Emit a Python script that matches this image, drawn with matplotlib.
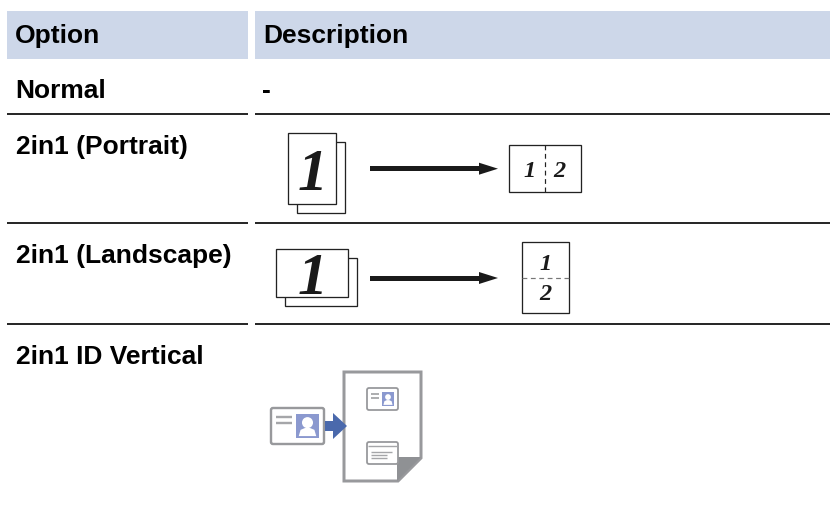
import matplotlib
matplotlib.use('Agg')
import matplotlib.pyplot as plt
from matplotlib.patches import Rectangle, Polygon, Circle, FancyBboxPatch

header = ['Option', 'Description']
options = ['Normal', '2in1 (Portrait)', '2in1 (Landscape)', '2in1 ID Vertical']
option_y = [98, 154, 263, 364]
rule_y = [114, 223, 324]

HEADER_COL = '#cdd7e9'
GREY = '#98999c'
BLUE = '#8b99cf'
DARK_BLUE = '#4a69ac'
PX = 0.72  # un pixel en points

fig = plt.figure(figsize=(8.3, 5.14), dpi=100)
ax = fig.add_axes([0, 0, 1, 1])
ax.set_xlim(0, 830)
ax.set_ylim(514, 0)
ax.axis('off')


def texte(x, y, s, size=19):
    ax.text(x, y, s, fontsize=size, fontweight='bold', family='Liberation Sans',
            va='baseline', ha='left', color='black')


def chiffre(x, y, s, size):
    ax.text(x, y, s, fontsize=size, fontweight='bold', style='italic', family='Liberation Serif',
            va='center_baseline', ha='center', color='#1a1a1a')


def rect(x0, y0, x1, y1, lw=1.3, ec='#222222', fc='white', z=2):
    ax.add_patch(Rectangle((x0, y0), x1 - x0, y1 - y0, lw=lw * PX, ec=ec, fc=fc, zorder=z))


def fleche(x0, x1, y):
    rect(x0, y - 2.5, x1 - 19, y + 2.5, lw=0, ec='none', fc='#1a1a1a')
    ax.add_patch(Polygon([(x1 - 19, y - 6), (x1, y), (x1 - 19, y + 6)], fc='#1a1a1a', ec='none', zorder=2))


def carte(x0, y0, x1, y1, lw):
    ax.add_patch(FancyBboxPatch((x0 + 1.5, y0 + 1.5), x1 - x0 - 3, y1 - y0 - 3, boxstyle='round,pad=1.5,rounding_size=2',
                                lw=lw * PX, ec=GREY, fc='white', zorder=3))


def personne(x0, y0, x1, y1):
    rect(x0, y0, x1, y1, lw=0, ec='none', fc=BLUE, z=4)
    w = x1 - x0
    h = y1 - y0
    cx = (x0 + x1) / 2
    ax.add_patch(Circle((cx, y0 + h * 0.36), w * 0.24, fc='white', ec='none', zorder=5))
    ax.add_patch(Polygon([(x0 + w * 0.12, y1 - h * 0.08), (x0 + w * 0.2, y0 + h * 0.66), (x0 + w * 0.4, y0 + h * 0.58),
                          (x0 + w * 0.6, y0 + h * 0.58), (x0 + w * 0.8, y0 + h * 0.66), (x1 - w * 0.12, y1 - h * 0.08)],
                         fc='white', ec='none', zorder=5))


def trait(x0, x1, y, lw=2.4):
    ax.plot([x0, x1], [y, y], color='#a5a6a9', lw=lw * PX, solid_capstyle='butt', zorder=4)


# En-tête
rect(7, 11, 248, 59, lw=0, ec='none', fc=HEADER_COL, z=1)
rect(255, 11, 830, 59, lw=0, ec='none', fc=HEADER_COL, z=1)
texte(15, 43, header[0])
texte(263, 43, header[1])

for i in range(len(options)):
    texte(15.5, option_y[i], options[i])
texte(262, option_y[0], '-')

for y in rule_y:
    ax.plot([7, 248], [y, y], color='#111111', lw=1.8 * PX, solid_capstyle='butt')
    ax.plot([255, 830], [y, y], color='#111111', lw=1.8 * PX, solid_capstyle='butt')

# 2in1 portrait
rect(297, 142, 345, 213)
rect(288, 133, 336, 204)
chiffre(313, 170, '1', 43)
fleche(370, 498, 168.7)
rect(509, 145, 581, 192)
ax.plot([545, 545], [145, 192], color='#222222', lw=1.2 * PX, ls=(0, (4, 3)), zorder=3)
chiffre(529, 168.7, '1', 17.5)
chiffre(559, 168.7, '2', 17.5)

# 2in1 paysage
rect(285, 258, 357, 306)
rect(276, 249, 348, 297)
chiffre(313, 273, '1', 43)
fleche(370, 498, 278)
rect(522, 242, 569, 313)
ax.plot([522, 569], [278, 278], color='#777777', lw=1.2 * PX, ls=(0, (4, 3)), zorder=3)
chiffre(545, 262, '1', 17.5)
chiffre(545, 292, '2', 17.5)

# ID vertical
ax.add_patch(Polygon([(344, 372), (421, 372), (421, 458), (398, 481), (344, 481)], closed=True,
                     fc='white', ec=GREY, lw=3 * PX, joinstyle='miter', zorder=2))
ax.add_patch(Polygon([(397, 457), (421, 457), (397, 481)], fc='#8f9194', ec='none', zorder=3))

carte(271, 408, 324, 444, 2.4)
personne(296, 414, 319, 438)
trait(276, 292, 417)
trait(276, 292, 423)

ax.add_patch(Polygon([(325, 421), (333, 421), (333, 413), (347, 426), (333, 439), (333, 431), (325, 431)],
                     fc=DARK_BLUE, ec='none', zorder=6))

carte(367, 388, 398, 410, 1.8)
personne(382, 392, 394, 406)
trait(371, 379, 394, 1.8)
trait(371, 379, 398, 1.8)

carte(367, 442, 398, 464, 1.8)
trait(368, 397, 446, 1.4)
trait(371, 392, 452, 1.4)
trait(371, 387, 455, 1.4)
trait(371, 387, 458, 1.4)

fig.savefig('out.png', dpi=100)
